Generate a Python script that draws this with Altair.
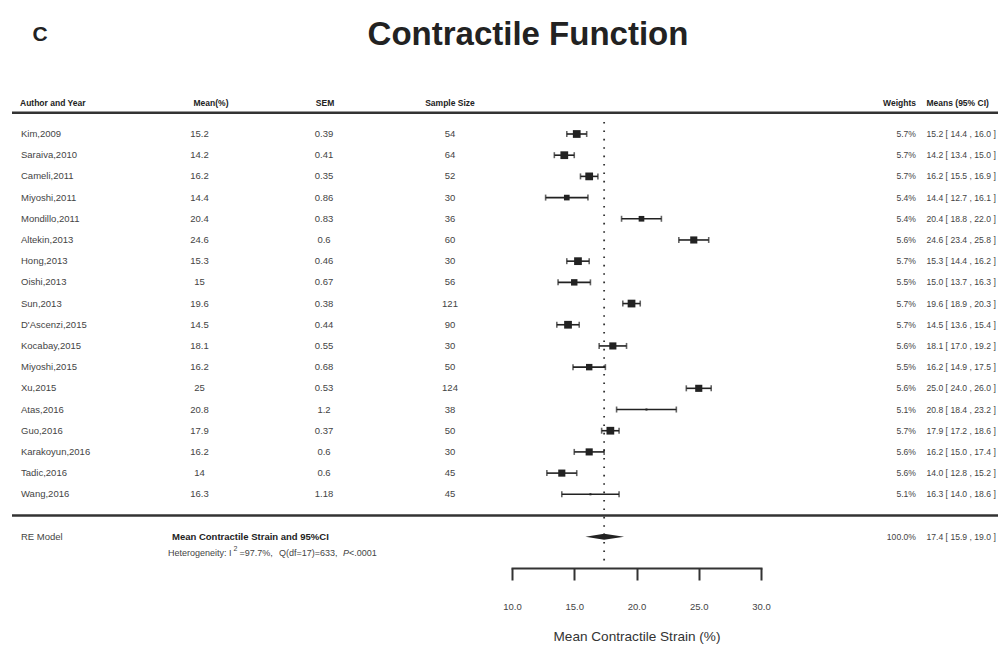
import altair as alt
import pandas as pd

# ---------------- data ----------------
authors = ["Kim,2009", "Saraiva,2010", "Cameli,2011", "Miyoshi,2011", "Mondillo,2011",
           "Altekin,2013", "Hong,2013", "Oishi,2013", "Sun,2013", "D'Ascenzi,2015",
           "Kocabay,2015", "Miyoshi,2015", "Xu,2015", "Atas,2016", "Guo,2016",
           "Karakoyun,2016", "Tadic,2016", "Wang,2016"]
mean_pct = ["15.2", "14.2", "16.2", "14.4", "20.4", "24.6", "15.3", "15", "19.6", "14.5",
            "18.1", "16.2", "25", "20.8", "17.9", "16.2", "14", "16.3"]
sem = ["0.39", "0.41", "0.35", "0.86", "0.83", "0.6", "0.46", "0.67", "0.38", "0.44",
       "0.55", "0.68", "0.53", "1.2", "0.37", "0.6", "0.6", "1.18"]
sample_size = [54, 64, 52, 30, 36, 60, 30, 56, 121, 90, 30, 50, 124, 38, 50, 30, 45, 45]
weights = [5.7, 5.7, 5.7, 5.4, 5.4, 5.6, 5.7, 5.5, 5.7, 5.7, 5.6, 5.5, 5.6, 5.1, 5.7, 5.6, 5.6, 5.1]
means = [15.2, 14.2, 16.2, 14.4, 20.4, 24.6, 15.3, 15.0, 19.6, 14.5, 18.1, 16.2, 25.0, 20.8,
         17.9, 16.2, 14.0, 16.3]
lower = [14.4, 13.4, 15.5, 12.7, 18.8, 23.4, 14.4, 13.7, 18.9, 13.6, 17.0, 14.9, 24.0, 18.4,
         17.2, 15.0, 12.8, 14.0]
upper = [16.0, 15.0, 16.9, 16.1, 22.0, 25.8, 16.2, 16.3, 20.3, 15.4, 19.2, 17.5, 26.0, 23.2,
         18.6, 17.4, 15.2, 18.6]

pooled_mean = 17.4
pooled_lower = 15.9
pooled_upper = 19.0
pooled_weight = 100.0

axis_ticks = [10, 15, 20, 25, 30]

# ---------------- tables ----------------
df = pd.DataFrame({
    "row": list(range(len(authors))),
    "author": authors,
    "mean_txt": mean_pct,
    "sem": sem,
    "n": [str(v) for v in sample_size],
    "weight": weights,
    "w_txt": [f"{w:.1f}%" for w in weights],
    "mean": means,
    "lower": lower,
    "upper": upper,
})
df["ci_txt"] = [f"{m:.1f} [ {l:.1f} , {u:.1f} ]" for m, l, u in zip(means, lower, upper)]

RE_ROW = len(authors) + 1
summ = pd.DataFrame({
    "row": [RE_ROW],
    "w_txt": [f"{pooled_weight:.1f}%"],
    "ci_txt": [f"{pooled_mean:.1f} [ {pooled_lower:.1f} , {pooled_upper:.1f} ]"],
    "est": [pooled_mean],
})
DH = 0.14  # half height of diamond in row units
diamond = pd.DataFrame({
    "dx": [pooled_lower, pooled_mean, pooled_upper],
    "lo": [RE_ROW, RE_ROW - DH, RE_ROW],
    "hi": [RE_ROW, RE_ROW + DH, RE_ROW],
})
lines = pd.DataFrame({"row": [-1, len(authors)]})

FONT = "Liberation Sans, Arial, sans-serif"
DARK = "#222222"
TXT = "#444444"

yscale = alt.Scale(domain=[0, 17], range=[126, 486.3], nice=False, zero=False)
xscale = alt.Scale(domain=[10, 30], range=[504, 753], nice=False, zero=False)
xaxis = alt.Axis(values=axis_ticks, format=".1f", title="Mean Contractile Strain (%)",
                 tickSize=12, tickWidth=2, domainWidth=2, domainColor="#333", tickColor="#333",
                 labelPadding=21, labelFontSize=9.5, labelFont=FONT, labelColor=TXT,
                 labelFlush=False,
                 titleFontSize=13.6, titleFont=FONT, titleFontWeight="normal",
                 titlePadding=19, titleColor="#333", grid=False, domainCap="square")


def Y(field="row"):
    return alt.Y(f"{field}:Q", scale=yscale, axis=None)


def X(field):
    return alt.X(f"{field}:Q", scale=xscale, axis=xaxis)


base = alt.Chart(df)

ci = base.mark_rule(strokeWidth=1.6, color=DARK).encode(x=X("lower"), x2="upper", y=Y())
cap_lo = base.mark_tick(orient="vertical", size=6, thickness=1.6, color=DARK).encode(x=X("lower"), y=Y())
cap_hi = base.mark_tick(orient="vertical", size=6, thickness=1.6, color=DARK).encode(x=X("upper"), y=Y())
squares = base.mark_square(filled=True, color=DARK, opacity=1).encode(
    x=X("mean"), y=Y(),
    size=alt.Size("weight:Q", scale=alt.Scale(domain=[5.1, 5.7], range=[4, 60]), legend=None))

dia = alt.Chart(diamond).mark_area(color=DARK, opacity=1).encode(
    x=X("dx"), y=Y("lo"), y2="hi")

ref = alt.Chart(summ).mark_rule(strokeDash=[1.6, 6.8], strokeWidth=1.8, color="#333").encode(
    x=X("est"), y=alt.value(114), y2=alt.value(557))

hlines = alt.Chart(lines).mark_rule(strokeWidth=2.5, color="#333").encode(
    x=alt.value(4), x2=alt.value(990), y=Y())


def col(data, field, xpx, align, size=9.5, color=TXT, weight="normal", style="normal"):
    return alt.Chart(data).mark_text(align=align, baseline="middle", font=FONT, fontSize=size,
                                     color=color, fontWeight=weight, fontStyle=style).encode(
        x=alt.value(xpx), y=Y(), text=f"{field}:N")


def label(text, xpx, row, align, size=9.5, color=TXT, weight="normal", style="normal"):
    d = pd.DataFrame({"row": [row], "t": [text]})
    return col(d, "t", xpx, align, size, color, weight, style)


HROW = -1.48
HET = RE_ROW + 0.76
HS = 8.5  # header font size
RS = 8.6  # right-hand column font size
layers = [
    hlines, ref, ci, cap_lo, cap_hi, squares, dia,
    col(df, "author", 13, "left"),
    col(df, "mean_txt", 191.5, "center"),
    col(df, "sem", 316, "center"),
    col(df, "n", 442, "center"),
    col(df, "w_txt", 908, "right", size=RS),
    col(df, "ci_txt", 918.5, "left", size=RS),
    label("Author and Year", 12, HROW, "left", size=HS, color=DARK, weight="bold"),
    label("Mean(%)", 203, HROW, "center", size=HS, color=DARK, weight="bold"),
    label("SEM", 317, HROW, "center", size=HS, color=DARK, weight="bold"),
    label("Sample Size", 442, HROW, "center", size=HS, color=DARK, weight="bold"),
    label("Weights", 908, HROW, "right", size=HS, color=DARK, weight="bold"),
    label("Means (95% CI)", 918.5, HROW, "left", size=HS, color=DARK, weight="bold"),
    label("RE Model", 13, RE_ROW, "left"),
    label("Mean Contractile Strain and 95%CI", 164, RE_ROW, "left", color=DARK, weight="bold"),
    col(summ, "w_txt", 908, "right", size=RS),
    col(summ, "ci_txt", 918.5, "left", size=RS),
    label("Heterogeneity: I", 160, HET, "left", size=9),
    label("2", 225.5, HET - 0.2, "left", size=7),
    label("=97.7%,", 231.5, HET, "left", size=9),
    label("Q(df=17)=633,", 271, HET, "left", size=9),
    label("P", 335, HET, "left", size=9, style="italic"),
    label("<.0001", 341, HET, "left", size=9),
    label("Contractile Function", 520, -4.66, "center", size=33, color=DARK, weight="bold"),
    label("C", 32, -4.66, "center", size=21, color=DARK, weight="bold"),
]

chart = alt.layer(*layers).properties(
    width=990, height=560,
    autosize=alt.AutoSizeParams(type="none"),
    padding={"left": 0, "top": 0, "right": 0, "bottom": 76},
).configure_view(stroke=None)

chart.save("out.html", embed_options={"renderer": "svg", "actions": False})
